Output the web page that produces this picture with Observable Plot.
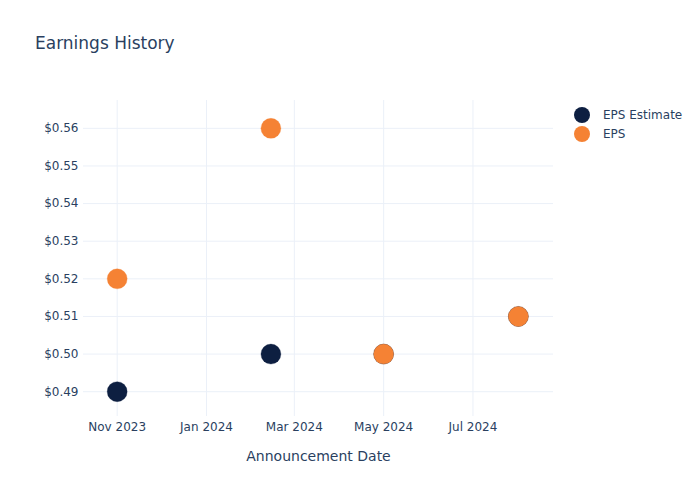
<!DOCTYPE html>
<html>
<head>
<meta charset="utf-8">
<script src="https://cdn.jsdelivr.net/npm/d3@7"></script>
<script src="https://cdn.jsdelivr.net/npm/@observablehq/plot@0.6"></script>
<style>
  body { margin: 0; background: #fff; font-family: "DejaVu Sans", sans-serif; }
  #wrap { position: relative; width: 700px; height: 500px; }
  #title { position: absolute; left: 35px; top: 33px; font-size: 17px; color: #2a3f5f; }
  #legend { position: absolute; left: 574px; top: 105px; font-size: 12px; color: #2a3f5f; }
  .li { display: flex; align-items: center; height: 19px; }
  .sw { width: 16px; height: 16px; border-radius: 50%; margin-right: 13px; }
</style>
</head>
<body>
<div id="wrap">
  <div id="chart"></div>
  <div id="title">Earnings History</div>
  <div id="legend"></div>
</div>
<script>
const dates = ["2023-11-01", "2024-02-14", "2024-05-01", "2024-08-01"];
const epsEstimate = [0.49, 0.50, 0.50, 0.51];
const epsActual = [0.52, 0.56, 0.50, 0.51];
const seriesNames = ["EPS Estimate", "EPS"];
const seriesColors = ["#0d1f41", "#f58234"];
const yTicks = [0.49, 0.50, 0.51, 0.52, 0.53, 0.54, 0.55, 0.56];
const xTicks = ["2023-11-01", "2024-01-01", "2024-03-01", "2024-05-01", "2024-07-01"];

const rows = [];
seriesNames.forEach((s, si) => {
  const vals = si === 0 ? epsEstimate : epsActual;
  dates.forEach((d, i) => rows.push({date: new Date(d + "T00:00:00"), value: vals[i], series: s}));
});
const xt = xTicks.map(d => new Date(d + "T00:00:00"));
const fmtX = d3.timeFormat("%b %Y");
const grid = "#ebf0f8";

const chart = Plot.plot({
  width: 700,
  height: 500,
  marginLeft: 83,
  marginRight: 147,
  marginTop: 100,
  marginBottom: 90,
  style: {fontFamily: "DejaVu Sans, sans-serif", fontSize: "12px", color: "#2a3f5f", background: "#fff"},
  x: {type: "time", domain: [new Date("2023-10-09T00:00:00"), new Date("2024-08-25T00:00:00")]},
  y: {domain: [0.485, 0.5674]},
  color: {domain: seriesNames, range: seriesColors},
  marks: [
    Plot.ruleY(yTicks, {stroke: grid, strokeWidth: 1}),
    Plot.ruleX(xt, {stroke: grid, strokeWidth: 1, y1: 0.485, y2: 0.5674}),
    Plot.axisY({ticks: yTicks, tickFormat: d => "$" + d3.format(".2f")(d), tickSize: 0, tickPadding: 5, label: null, fill: "#2a3f5f", fontSize: 12}),
    Plot.axisX({ticks: xt, tickFormat: fmtX, tickSize: 6, stroke: grid, tickPadding: 6, label: null, fill: "#2a3f5f", fontSize: 12}),
    Plot.dot(rows, {x: "date", y: "value", fill: "series", r: 10, stroke: "series", strokeWidth: 0.3}),
    Plot.text(["Announcement Date"], {frameAnchor: "bottom", dy: 50, fontSize: 14, fill: "#2a3f5f"})
  ]
});
document.getElementById("chart").appendChild(chart);

const legend = document.getElementById("legend");
seriesNames.forEach((s, i) => {
  const row = document.createElement("div");
  row.className = "li";
  const sw = document.createElement("div");
  sw.className = "sw";
  sw.style.background = seriesColors[i];
  const t = document.createElement("span");
  t.textContent = s;
  row.appendChild(sw); row.appendChild(t);
  legend.appendChild(row);
});
</script>
</body>
</html>
